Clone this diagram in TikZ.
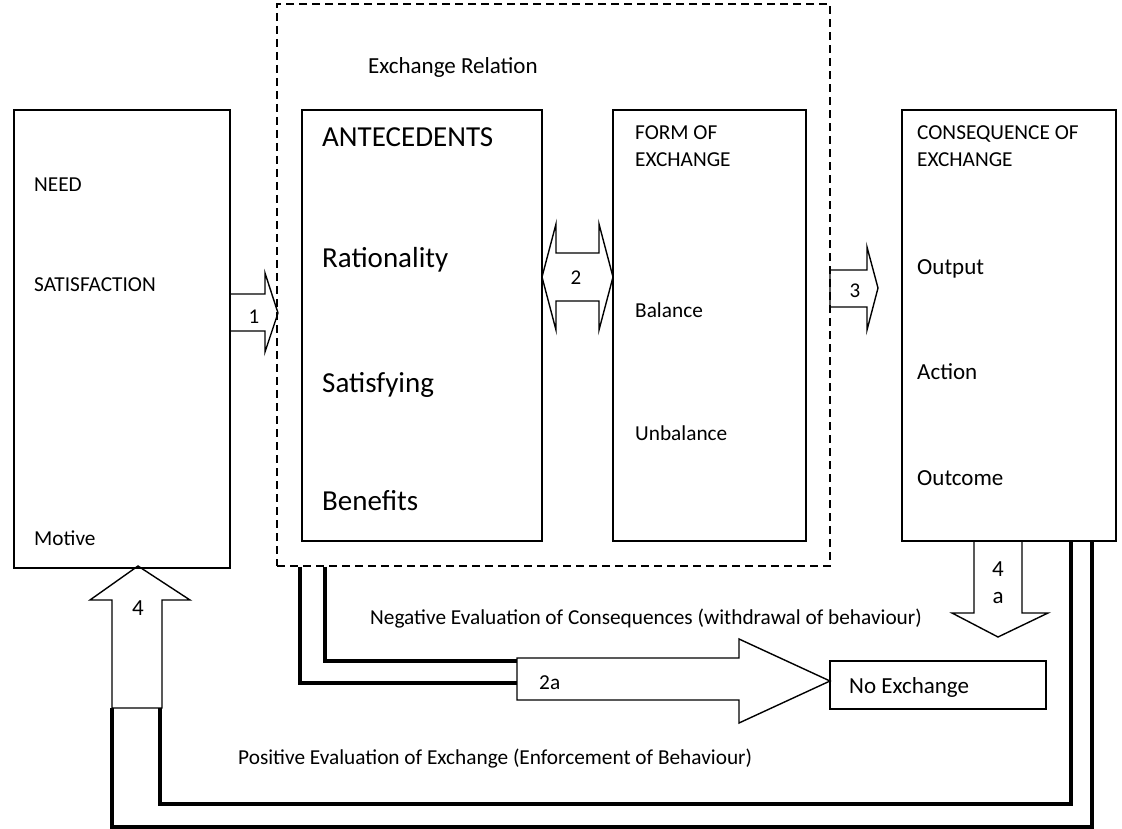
\documentclass[tikz,border=0pt]{standalone}
\usepackage{fontspec}
\setmainfont{Carlito}
\usetikzlibrary{positioning}

\tikzset{
  box/.style={draw, line width=2.2pt, inner sep=0pt},
  dashbox/.style={draw, line width=1.8pt, dash pattern=on 8pt off 5pt, inner sep=0pt},
  blockarrow/.style={draw, line width=1.4pt, line join=miter},
  feedback/.style={line width=3.4pt},
  txt/.style={anchor=base west, inner sep=0pt, font=\fontsize{21.3}{25}\selectfont},
  midtxt/.style={anchor=base west, inner sep=0pt, font=\fontsize{23}{27}\selectfont},
  bigtxt/.style={anchor=base west, inner sep=0pt, font=\fontsize{29}{34}\selectfont},
  numtxt/.style={inner sep=0pt, font=\fontsize{21}{25}\selectfont},
}

\begin{document}
\begin{tikzpicture}[x=1pt, y=-1pt]
\useasboundingbox (0,0) rectangle (1122,829);

% boxes
\node[box, minimum width=216pt, minimum height=458pt] (need) at (122,339) {};
\node[dashbox, minimum width=553pt, minimum height=562pt] (relation) at (553.5,285) {};
\node[box, minimum width=240pt, minimum height=431pt] (ante) at (422,325.5) {};
\node[box, minimum width=193pt, minimum height=431pt] (form) at (709.5,325.5) {};
\node[box, minimum width=214pt, minimum height=431pt] (cons) at (1009,325.5) {};
\node[box, minimum width=216pt, minimum height=48pt] (noex) at (938,685) {};

% texts
\node[txt] (needA) at (34,192) {NEED};
\node[txt] (needB) at (34,291) {SATISFACTION};
\node[txt] (needC) at (34,545) {Motive};
\node[midtxt] (rel) at (368,74) {Exchange Relation};
\node[bigtxt] (anteA) at (322,147) {ANTECEDENTS};
\node[bigtxt] (anteB) at (322,268) {Rationality};
\node[bigtxt] (anteC) at (322,392) {Satisfying};
\node[bigtxt] (anteD) at (322,510) {Benefits};
\node[txt] (formA) at (635,140) {FORM OF};
\node[txt] (formB) at (635,167) {EXCHANGE};
\node[txt] (formC) at (635,317) {Balance};
\node[txt] (formD) at (635,440) {Unbalance};
\node[txt] (consA) at (917,140) {CONSEQUENCE OF};
\node[txt] (consB) at (917,167) {EXCHANGE};
\node[midtxt] (consC) at (917,275) {Output};
\node[midtxt] (consD) at (917,379) {Action};
\node[midtxt] (consE) at (917,485) {Outcome};
\node[midtxt] (noexT) at (849,693) {No Exchange};
\node[txt] (neg) at (370,624) {Negative Evaluation of Consequences (withdrawal of behaviour)};
\node[txt] (pos) at (238,764) {Positive Evaluation of Exchange (Enforcement of Behaviour)};

% block arrows
\draw[blockarrow] (230,294) -- (265,294) -- (265,273) -- (278,313) -- (265,352) -- (265,331) -- (230,331) -- cycle;
\node[numtxt] (one) at (254,317) {1};
\draw[blockarrow] (542,277) -- (556,224) -- (556,253) -- (599,253) -- (599,224) -- (613,277)
  -- (599,330) -- (599,301) -- (556,301) -- (556,330) -- cycle;
\node[numtxt] (two) at (576,278) {2};
\draw[blockarrow] (830,270) -- (867,270) -- (867,247) -- (878,288) -- (867,330) -- (867,307) -- (830,307) -- cycle;
\node[numtxt] (three) at (855,291) {3};
\draw[blockarrow] (974,541) -- (974,613) -- (952,613) -- (998,637) -- (1048,613) -- (1022,613) -- (1022,541);
\node[numtxt, font=\fontsize{23}{27}\selectfont] (fourA) at (998,569) {4};
\node[numtxt, font=\fontsize{23}{27}\selectfont] (fourB) at (998,598) {a};
\draw[blockarrow] (112,708) -- (112,600) -- (90,600) -- (138,566) -- (190,600) -- (162,600) -- (162,708) -- cycle;
\node[numtxt, font=\fontsize{23}{27}\selectfont] (four) at (138,608) {4};
\draw[blockarrow] (517,658) -- (739,658) -- (739,639) -- (830,681) -- (739,723) -- (739,700) -- (517,700) -- cycle;
\node[txt] (twoA) at (539,689) {2a};

% return lines
\coordinate (in2a) at (517,661);
\coordinate (out2a) at (517,683);
\coordinate (in4) at (160,708);
\coordinate (out4) at (112,708);
\draw[feedback] (relation.south -| 325,0) |- (in2a);
\draw[feedback] (relation.south -| 300,0) |- (out2a);
\draw[feedback] (cons.south -| 1071,0) -- (1071,804) -| (in4);
\draw[feedback] (cons.south -| 1092,0) -- (1092,827) -| (out4);
\end{tikzpicture}
\end{document}
